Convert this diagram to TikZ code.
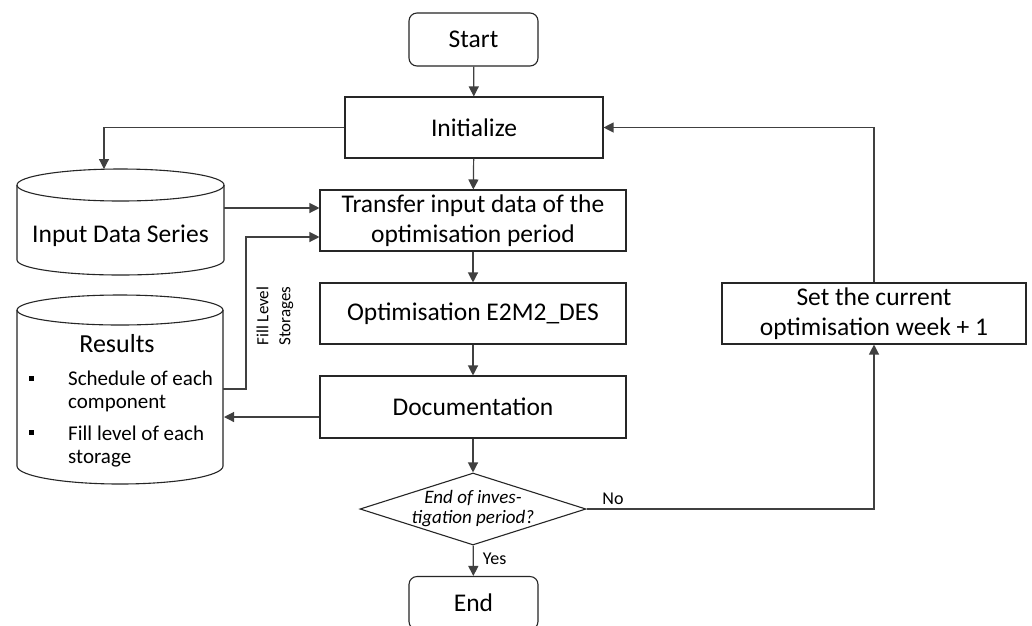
\documentclass[tikz,border=0pt]{standalone}
\usepackage{fontspec}
\setmainfont{Carlito}
\usetikzlibrary{arrows.meta,shapes.geometric}
\begin{document}
\begin{tikzpicture}[x=1pt,y=-1pt,
  box/.style={draw=black!85,line width=1.1pt,minimum height=61pt,inner sep=0pt,align=center,font=\fontsize{25.5}{30}\selectfont},
  term/.style={box,rounded corners=8pt,minimum height=53pt,minimum width=129pt},
  dec/.style={diamond,draw=black!85,line width=1.1pt,inner sep=0pt,minimum width=226pt,minimum height=72pt},
  cyl/.style={draw=black!85,line width=1.1pt},
  arr/.style={draw=black!75,line width=1.2pt,-{Triangle[length=10pt,width=10pt]}},
  lbl/.style={font=\fontsize{18}{21}\selectfont,inner sep=0pt},
  bul/.style={font=\fontsize{21}{23}\selectfont,align=left,inner sep=0pt,anchor=base west}
]
\fill[white] (0,0) rectangle (1032,625);
\useasboundingbox (0,0) rectangle (1032,625);

% main column
\node[term] (start) at (473.5,39.5) {Start};
\node[box,minimum width=258pt] (init) at (474,127.5) {Initialize};
\node[box,minimum width=306pt] (transfer) at (473,220.5) {Transfer input data of the\\optimisation period};
\node[box,minimum width=306pt] (optim) at (473,313.5) {Optimisation E2M2\_DES};
\node[box,minimum width=306pt,minimum height=62pt] (doc) at (473,407) {Documentation};
\node[dec] (dia) at (473,509) {};
\node[lbl,align=center,font=\fontsize{19}{20}\selectfont\itshape] (diatext) at (473,509) {End of inves-\\tigation period?};
\node[term] (end) at (473.5,603) {End};
\node[box,minimum width=304pt] (setbox) at (874,313.5) {Set the current\\optimisation week + 1};

% Input Data Series cylinder
\draw[cyl] (17,185) -- (17,260) arc[start angle=180,end angle=360,x radius=103.5pt,y radius=15pt] -- (224,185);
\draw[cyl] (120.5,185) ellipse[x radius=103.5pt,y radius=16pt];
\node[inner sep=0pt,font=\fontsize{25.5}{30}\selectfont] (input) at (120.5,236) {Input Data Series};

% Results cylinder
\draw[cyl] (17,310) -- (17,466) arc[start angle=180,end angle=360,x radius=103pt,y radius=18pt] -- (223,310);
\draw[cyl] (120,310) ellipse[x radius=103pt,y radius=15pt];
\node[inner sep=0pt,font=\fontsize{26}{30}\selectfont] (results) at (117,344) {Results};
\fill[black] (29,376) rectangle (33.5,380.5);
\fill[black] (29,430) rectangle (33.5,434.5);
\node[bul] (item1) at (68,408) {Schedule of each\\component};
\node[bul] (item2) at (68,463) {Fill level of each\\storage};

% Fill level label
\node[lbl,rotate=90,align=center,font=\fontsize{17}{22}\selectfont] (filllbl) at (275,316) {Fill Level\\Storages};

% coordinates
\coordinate (inTop) at (104,169);
\coordinate (inR) at (224,208);
\coordinate (resR) at (223,389);
\coordinate (fillC) at (246,237);
\coordinate (resIn) at (224,417);
\coordinate (turn) at (874,509);

% connectors
\draw[arr] (start) -- (init);
\draw[arr] (init) -- (transfer);
\draw[arr] (transfer) -- (optim);
\draw[arr] (optim) -- (doc);
\draw[arr] (doc) -- (dia);
\draw[arr] (dia) -- (end) node[lbl,pos=0.45,right=9pt] (yes) {Yes};
\draw[arr] (init.west) -| (inTop);
\draw[arr] (inR) -- (inR -| transfer.west);
\draw[arr] (resR) -| (fillC) -- (fillC -| transfer.west);
\draw[arr] ([yshift=-10pt]doc.west) -- (resIn);
\draw[arr] (dia.east) -- (turn) -- (setbox.south);
\node[lbl] (no) at (613,499) {No};
\draw[arr] (setbox.north) |- (init.east);
\end{tikzpicture}
\end{document}
